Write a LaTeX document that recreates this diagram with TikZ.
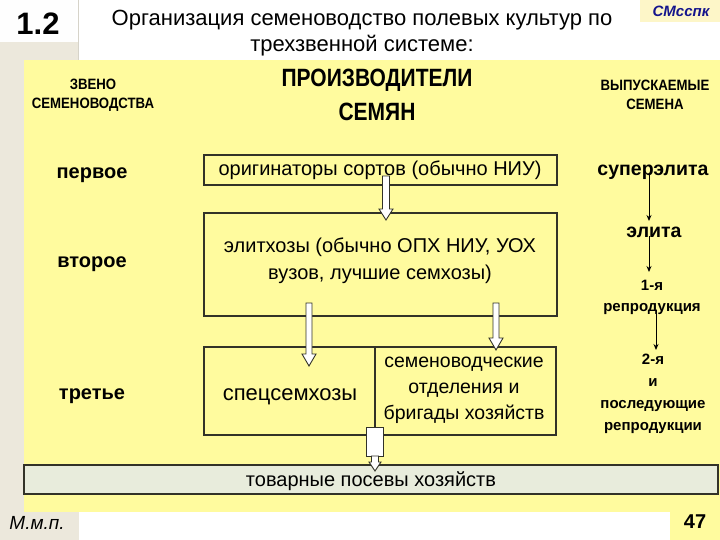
\documentclass[tikz,border=0pt]{standalone}
\usepackage{fontspec}
\setmainfont{Liberation Sans}
\newfontfamily\condfont[FakeStretch=0.88]{Liberation Sans}
\newfontfamily\bigcondfont[FakeStretch=0.84]{Liberation Sans}
\usetikzlibrary{calc,arrows.meta}
\definecolor{slideyellow}{RGB}{255,251,158}
\definecolor{beige}{RGB}{236,232,220}
\definecolor{boxline}{RGB}{50,50,40}
\definecolor{grayfill}{RGB}{232,236,220}
\definecolor{navy}{RGB}{20,20,140}
\definecolor{paleyellow}{RGB}{253,246,200}
\tikzset{
  flowbox/.style={draw=boxline, line width=1.1pt, fill=none},
  boxtext/.style={font=\fontsize{20}{22}\selectfont, text=black, inner sep=0pt},
  colhead/.style={font=\condfont\bfseries\fontsize{15}{17}\selectfont, align=center, inner sep=0pt},
  bighead/.style={font=\bigcondfont\bfseries\fontsize{25}{27}\selectfont, inner sep=0pt},
  level/.style={font=\bfseries\fontsize{20}{22}\selectfont, inner sep=0pt},
  seedbig/.style={font=\bfseries\fontsize{19.5}{21}\selectfont, inner sep=0pt},
  seedsmall/.style={font=\bfseries\fontsize{15}{16}\selectfont, inner sep=0pt},
  hollow/.style={draw=boxline, fill=white, line width=0.9pt, line join=miter},
  thinarrow/.style={-{Stealth[length=6pt,width=5pt]}, line width=0.9pt, black}
}
\newcommand\hollowarrow[6]{% x, ytop, ytip, shaft half, head half, head length
  \draw[hollow] ({#1-#4},#2) -- ({#1+#4},#2) -- ({#1+#4},{#3-#6}) -- ({#1+#5},{#3-#6})
    -- (#1,#3) -- ({#1-#5},{#3-#6}) -- ({#1-#4},{#3-#6}) -- cycle;}
\begin{document}
\begin{tikzpicture}[x=1pt,y=-1pt]
\useasboundingbox (0,0) rectangle (720,540);
\fill[white] (0,0) rectangle (720,540);
% left beige strip
\fill[beige] (0,42) rectangle (79,540);
\fill[white!96!beige] (0,0) rectangle (76,42);
\draw[beige!80!gray, line width=0.8pt] (78,0) -- (78,60);
% yellow area
\fill[slideyellow] (24,60) rectangle (720,512);
% page number box
\fill[slideyellow] (670,505) rectangle (720,540);
% top right label box
\fill[paleyellow] (640,0) rectangle (720,22);

% header texts
\node[font=\bfseries\fontsize{31}{33}\selectfont, inner sep=0pt] (num) at (38,24) {1.2};
\node[font=\fontsize{22}{24}\selectfont, align=center, inner sep=0pt] (title) at (362,33)
  {Организация семеноводство полевых культур по\\[2pt]трехзвенной системе:};
\node[font=\bfseries\itshape\fontsize{15}{17}\selectfont, text=navy, inner sep=0pt] (tag) at (681,11) {СМсспк};

\node[colhead] (zveno) at (93,95) {ЗВЕНО\\[2pt]СЕМЕНОВОДСТВА};
\node[bighead] (prod1) at (377,80) {ПРОИЗВОДИТЕЛИ};
\node[bighead] (prod2) at (377,112) {СЕМЯН};
\node[colhead] (vyp) at (655,95) {ВЫПУСКАЕМЫЕ\\[2pt]СЕМЕНА};

% levels
\node[level] (l1) at (92,175) {первое};
\node[level] (l2) at (92,264) {второе};
\node[level] (l3) at (92,396) {третье};

% boxes
\draw[flowbox] (204,155) rectangle (557,185);
\node[boxtext] (orig) at (380,170) {оригинаторы сортов (обычно НИУ)};
\draw[flowbox] (204,213) rectangle (557,316);
\node[boxtext, align=center] (elit) at (380,261) {элитхозы (обычно ОПХ НИУ, УОХ\\[5pt]вузов, лучшие семхозы)};
\draw[flowbox] (204,347) rectangle (556,435);
\draw[flowbox] (375,347) -- (375,435);
\node[boxtext, font=\fontsize{22}{24}\selectfont] (spec) at (290,397) {спецсемхозы};
\node[boxtext, font=\fontsize{19.5}{22}\selectfont, align=center] (semot) at (464,390) {семеноводческие\\[4pt]отделения и\\[4pt]бригады хозяйств};
\draw[flowbox, fill=grayfill] (24,465) rectangle (718,494);
\node[boxtext] (tovar) at (371,481) {товарные посевы хозяйств};

% hollow arrows
\hollowarrow{386}{176}{220}{3.5}{7}{11}
\hollowarrow{309}{303}{366}{3}{7}{12}
\hollowarrow{496}{303}{350}{3}{7}{12}
\draw[hollow] (366,427) rectangle (383,456);
\hollowarrow{375}{456}{471}{3.5}{6}{9}

% right column
\node[seedbig] (super) at (653,172) {суперэлита};
\node[seedbig] (elita) at (654,232) {элита};
\node[seedsmall, align=center] (rep1) at (652,297) {1-я\\[5pt]репродукция};
\node[seedsmall, align=center] (rep2) at (653,394) {2-я\\[6pt]и\\[6pt]последующие\\[6pt]репродукции};
\coordinate (a1s) at (649,175); \coordinate (a1e) at (649,221);
\coordinate (a2s) at (649,236); \coordinate (a2e) at (649,272);
\coordinate (a3s) at (656,310); \coordinate (a3e) at (656,350);
\draw[thinarrow] (a1s) -- (a1e);
\draw[thinarrow] (a2s) -- (a2e);
\draw[thinarrow] (a3s) -- (a3e);

% footer
\node[font=\itshape\fontsize{19}{21}\selectfont, inner sep=0pt] (mmp) at (37,523) {М.м.п.};
\node[font=\bfseries\fontsize{20}{22}\selectfont, inner sep=0pt] (page) at (695,522) {47};
\end{tikzpicture}
\end{document}
